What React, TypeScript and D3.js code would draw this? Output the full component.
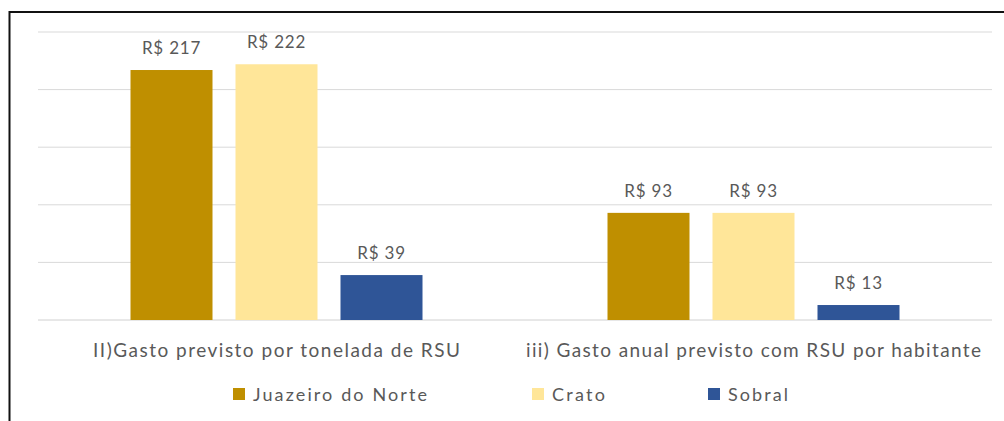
import React from "react";
import * as d3 from "d3";

const categories = ["II)Gasto previsto por tonelada de RSU", "iii) Gasto anual previsto com RSU por habitante"];
const seriesNames = ["Juazeiro do Norte", "Crato", "Sobral"];
const juazeiro = [217, 93];
const crato = [222, 93];
const sobral = [39, 13];
const yTicks = [0, 50, 100, 150, 200, 250];
const colors = ["#BF8F00", "#FFE699", "#2F5597"];

export default function App() {
  const W = 1004, H = 421;
  const left = 38, right = 992, top = 32, bottom = 320;
  const x0 = d3.scaleBand().domain(categories).range([left, right]).paddingInner(0).paddingOuter(0);
  const y = d3.scaleLinear().domain([0, 250]).range([bottom, top]);
  const seriesVals = [juazeiro, crato, sobral];
  const barW = 82;
  const step = 105;
  const font = "Lato, 'Open Sans', sans-serif";
  const legendX = [233, 532, 708];
  const legendLen = [174, 53, 60];
  const catLen = [367, 455];
  return (
    <svg width={W} height={H} style={{ position: "absolute", left: 0, top: 0, background: "#fff" }}>
      <line x1={9.5} x2={W} y1={12} y2={12} stroke="#111" strokeWidth={2} />
      <line x1={9.5} x2={9.5} y1={11} y2={H} stroke="#111" strokeWidth={2} />
      {yTicks.map((t) => (
        <line key={t} x1={left} x2={right} y1={y(t)} y2={y(t)} stroke={t === 0 ? "#d0d0d0" : "#d9d9d9"} strokeWidth={1} />
      ))}
      {categories.map((c, ci) => {
        const cx = (x0(c) as number) + x0.bandwidth() / 2;
        return (
          <g key={c}>
            {seriesVals.map((vals, si) => {
              const bx = cx + (si - 1) * step - barW / 2;
              const v = vals[ci];
              return (
                <g key={si}>
                  <rect x={bx} y={y(v)} width={barW} height={y(0) - y(v)} fill={colors[si]} />
                  <text x={bx + barW / 2} y={y(v) - 16} textAnchor="middle" fontFamily={font} fontSize={17} letterSpacing={0.8} fill="#595959">
                    {"R$ " + v}
                  </text>
                </g>
              );
            })}
            <text x={cx - catLen[ci] / 2} y={357} textLength={catLen[ci]} lengthAdjust="spacing" fontFamily={font} fontSize={19} fill="#595959">
              {c}
            </text>
          </g>
        );
      })}
      {seriesNames.map((s, i) => (
        <g key={s}>
          <rect x={legendX[i]} y={388} width={12} height={12} fill={colors[i]} />
          <text x={legendX[i] + 20} y={401} textLength={legendLen[i]} lengthAdjust="spacing" fontFamily={font} fontSize={18} fill="#595959">
            {s}
          </text>
        </g>
      ))}
    </svg>
  );
}
